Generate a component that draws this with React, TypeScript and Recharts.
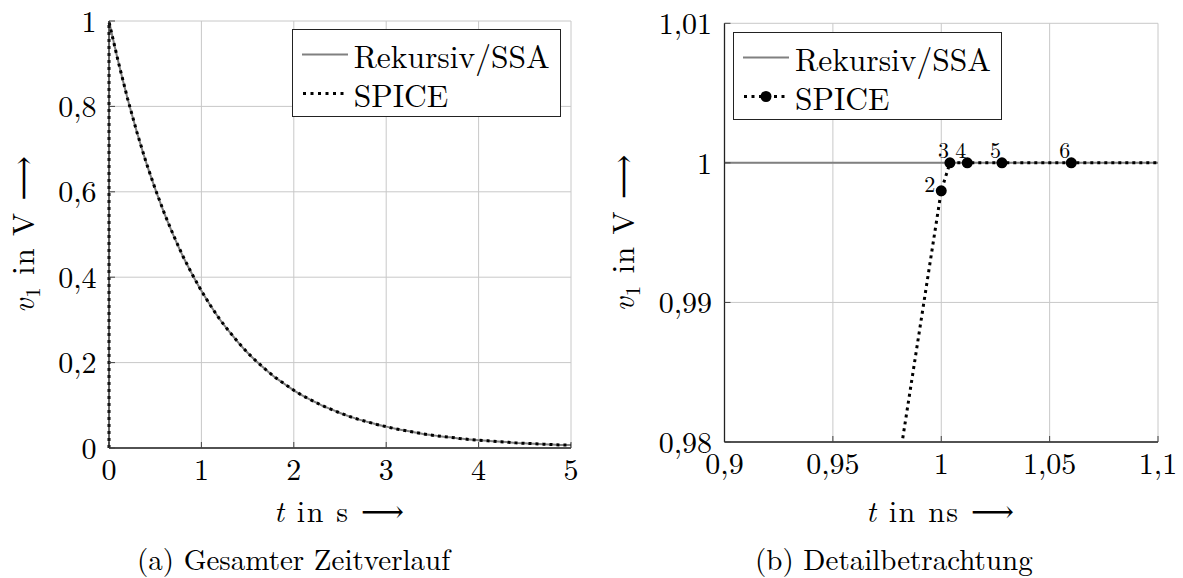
import React from 'react';
import { LineChart, Line, XAxis, YAxis, CartesianGrid, Legend, LabelList } from 'recharts';

const FONT =
  "'Latin Modern Roman', 'CMU Serif', 'Liberation Serif', 'Tinos', 'Times New Roman', 'Noto Serif', 'DejaVu Serif', 'FreeSerif', 'Nimbus Roman', 'TeX Gyre Termes', Times, serif";

// ---------- Panel (a): Gesamter Zeitverlauf (t in s) ----------
const timeA = [
  0, 0.1, 0.2, 0.3, 0.4, 0.5, 0.6, 0.7, 0.8, 0.9,
  1.0, 1.1, 1.2, 1.3, 1.4, 1.5, 1.6, 1.7, 1.8, 1.9,
  2.0, 2.1, 2.2, 2.3, 2.4, 2.5, 2.6, 2.7, 2.8, 2.9,
  3.0, 3.1, 3.2, 3.3, 3.4, 3.5, 3.6, 3.7, 3.8, 3.9,
  4.0, 4.1, 4.2, 4.3, 4.4, 4.5, 4.6, 4.7, 4.8, 4.9, 5.0,
];
const rekursivA = [
  1, 0.905, 0.819, 0.741, 0.670, 0.607, 0.549, 0.497, 0.449, 0.407,
  0.368, 0.333, 0.301, 0.273, 0.247, 0.223, 0.202, 0.183, 0.165, 0.150,
  0.135, 0.122, 0.111, 0.100, 0.091, 0.082, 0.074, 0.067, 0.061, 0.055,
  0.050, 0.045, 0.041, 0.037, 0.033, 0.030, 0.027, 0.025, 0.022, 0.020,
  0.018, 0.017, 0.015, 0.014, 0.012, 0.011, 0.010, 0.009, 0.008, 0.007, 0.007,
];
// SPICE starts at 0 V and reaches ~1 V after 1 ns, then follows the same decay
const spiceStartTimeA = [0, 0.000000001];
const spiceStartValueA = [0, 0.998];
const xTicksA = [0, 1, 2, 3, 4, 5];
const yTicksA = [0, 0.2, 0.4, 0.6, 0.8, 1];

// ---------- Panel (b): Detailbetrachtung (t in ns) ----------
const rekursivTimeB = [0.9, 1.1];
const rekursivValueB = [1, 1];
const spiceTimeB = [0, 1.0, 1.004, 1.012, 1.028, 1.06, 1.124];
const spiceValueB = [0, 0.998, 1, 1, 1, 1, 1];
const xTicksB = [0.9, 0.95, 1, 1.05, 1.1];
const yTicksB = [0.98, 0.99, 1, 1.01];

const seriesNames = ['Rekursiv/SSA', 'SPICE'];

// ---------- data tables ----------
const rekursivDataA = timeA.map((t, i) => ({ t, v: rekursivA[i] }));
const spiceDataA = [
  ...spiceStartTimeA.map((t, i) => ({ t, v: spiceStartValueA[i] })),
  ...timeA.slice(1).map((t, i) => ({ t, v: rekursivA[i + 1] })),
];
const rekursivDataB = rekursivTimeB.map((t, i) => ({ t, v: rekursivValueB[i] }));
const xMinB = xTicksB[0];
const xMaxB = xTicksB[xTicksB.length - 1];
const yMinB = yTicksB[0];
const yMaxB = yTicksB[yTicksB.length - 1];
const spiceDataB = spiceTimeB.map((t, i) => ({
  t,
  v: spiceValueB[i],
  label: t >= xMinB && t <= xMaxB && spiceValueB[i] >= yMinB ? String(i + 1) : '',
}));

const fmt = (v: number) => String(v).replace('.', ',');

const tickStyle = { fontFamily: FONT, fontSize: 30, fill: '#000' };
const axisLineStyle = { stroke: '#222', strokeWidth: 1.3 };
const tickLineStyle = { stroke: '#444', strokeWidth: 1 };
const GRID = '#c8c8c8';
const GRAY = '#808080';

function LegendBox({ marker }: { marker: boolean }) {
  return (
    <div
      style={{
        boxSizing: 'border-box',
        width: 269,
        border: '1.3px solid #222',
        background: '#fff',
        padding: '5px 0 3px 9px',
        fontFamily: FONT,
        fontSize: 31.5,
        color: '#000',
      }}
    >
      {seriesNames.map((name, idx) => (
        <div key={name} style={{ display: 'flex', alignItems: 'center', height: 39, whiteSpace: 'nowrap' }}>
          <svg width={46} height={39} style={{ flex: 'none' }}>
            {idx === 0 ? (
              <line x1={0} x2={46} y1={19.5} y2={19.5} stroke={GRAY} strokeWidth={2} />
            ) : (
              <g>
                <line x1={1} x2={46} y1={19.5} y2={19.5} stroke="#000" strokeWidth={3} strokeDasharray="3 4.5" />
                {marker && <circle cx={23} cy={19.5} r={5.5} fill="#000" />}
              </g>
            )}
          </svg>
          <span style={{ marginLeft: 6, display: 'inline-block', height: 30, lineHeight: '30px' }}>{name}</span>
        </div>
      ))}
    </div>
  );
}

const renderPointLabel = (props: any) => {
  const { value, index } = props;
  if (!value) return null;
  const x = props.x ?? props.viewBox?.x;
  const y = props.y ?? props.viewBox?.y;
  if (x == null || y == null) return null;
  const below = spiceValueB[index] < 1;
  return (
    <text
      x={below ? x - 6 : x - 1}
      y={below ? y + 1 : y - 5}
      textAnchor="end"
      fontFamily={FONT}
      fontSize={22}
      fill="#000"
    >
      {value}
    </text>
  );
};

function ChartA() {
  return (
    <LineChart width={600} height={578} margin={{ top: 21, right: 29, bottom: 90, left: 9 }}>
      <CartesianGrid stroke={GRID} strokeWidth={1} />
      <XAxis
        dataKey="t"
        type="number"
        domain={[0, 5]}
        ticks={xTicksA}
        interval={0}
        tickFormatter={fmt}
        height={40}
        tick={tickStyle}
        tickSize={-6}
        tickMargin={16.7}
        tickLine={tickLineStyle}
        axisLine={axisLineStyle}
      />
      <XAxis
        xAxisId="top"
        orientation="top"
        type="number"
        domain={[0, 5]}
        height={0}
        tick={false}
        tickLine={false}
        axisLine={axisLineStyle}
      />
      <YAxis
        dataKey="v"
        type="number"
        domain={[0, 1]}
        ticks={yTicksA}
        interval={0}
        tickFormatter={fmt}
        width={100}
        tick={tickStyle}
        tickSize={-6}
        tickMargin={18.5}
        tickLine={tickLineStyle}
        axisLine={axisLineStyle}
      />
      <YAxis
        yAxisId="right"
        orientation="right"
        type="number"
        domain={[0, 1]}
        width={0}
        tick={false}
        tickLine={false}
        axisLine={axisLineStyle}
      />
      <Line data={rekursivDataA} dataKey="v" type="monotone" stroke={GRAY} strokeWidth={2} dot={false} isAnimationActive={false} />
      <Line
        data={spiceDataA}
        dataKey="v"
        type="linear"
        stroke="#000"
        strokeWidth={3}
        strokeDasharray="3 4"
        dot={false}
        isAnimationActive={false}
      />
      <Legend
        layout="horizontal"
        verticalAlign="middle"
        align="center"
        wrapperStyle={{ left: 291.7, top: 29.3, width: 'auto', height: 'auto' }}
        content={() => <LegendBox marker={false} />}
      />
    </LineChart>
  );
}

function ChartB() {
  return (
    <LineChart width={583} height={578} margin={{ top: 23.3, right: 25, bottom: 96, left: 24.5 }}>
      <CartesianGrid stroke={GRID} strokeWidth={1} />
      <XAxis
        dataKey="t"
        type="number"
        domain={[xMinB, xMaxB]}
        allowDataOverflow
        ticks={xTicksB}
        interval={0}
        tickFormatter={fmt}
        height={40}
        tick={tickStyle}
        tickSize={-6}
        tickMargin={16.7}
        tickLine={tickLineStyle}
        axisLine={axisLineStyle}
      />
      <XAxis
        xAxisId="top"
        orientation="top"
        type="number"
        domain={[xMinB, xMaxB]}
        height={0}
        tick={false}
        tickLine={false}
        axisLine={axisLineStyle}
      />
      <YAxis
        dataKey="v"
        type="number"
        domain={[yMinB, yMaxB]}
        allowDataOverflow
        ticks={yTicksB}
        interval={0}
        tickFormatter={fmt}
        width={100}
        tick={tickStyle}
        tickSize={-6}
        tickMargin={18.5}
        tickLine={tickLineStyle}
        axisLine={axisLineStyle}
      />
      <YAxis
        yAxisId="right"
        orientation="right"
        type="number"
        domain={[yMinB, yMaxB]}
        width={0}
        tick={false}
        tickLine={false}
        axisLine={axisLineStyle}
      />
      <Line data={rekursivDataB} dataKey="v" type="linear" stroke={GRAY} strokeWidth={2} dot={false} isAnimationActive={false} />
      <Line
        data={spiceDataB}
        dataKey="v"
        type="linear"
        stroke="#000"
        strokeWidth={3}
        strokeDasharray="3 4"
        dot={{ r: 5.5, fill: '#000', stroke: '#000', strokeWidth: 0 }}
        isAnimationActive={false}
      >
        <LabelList dataKey="label" content={renderPointLabel} />
      </Line>
      <Legend
        layout="horizontal"
        verticalAlign="middle"
        align="center"
        wrapperStyle={{ left: 133, top: 32, width: 'auto', height: 'auto' }}
        content={() => <LegendBox marker={true} />}
      />
    </LineChart>
  );
}

export default function App() {
  return (
    <div style={{ position: 'absolute', left: 0, top: 0, width: 1183, height: 578, background: '#fff', overflow: 'hidden' }}>
      <div style={{ position: 'absolute', left: 0, top: 0 }}>
        <ChartA />
      </div>
      <div style={{ position: 'absolute', left: 600, top: 0 }}>
        <ChartB />
      </div>
      <svg
        width={1183}
        height={578}
        style={{ position: 'absolute', left: 0, top: 0, pointerEvents: 'none' }}
        fontFamily={FONT}
        fill="#000"
      >
        <text transform="translate(34,234.5) rotate(-90)" textAnchor="middle" fontSize={31} textLength={157} lengthAdjust="spacing">
          <tspan fontStyle="italic">v</tspan>
          <tspan fontSize={21} dy={6}>1</tspan>
          <tspan dy={-6}> in V ⟶</tspan>
        </text>
        <text transform="translate(634,233) rotate(-90)" textAnchor="middle" fontSize={31} textLength={157} lengthAdjust="spacing">
          <tspan fontStyle="italic">v</tspan>
          <tspan fontSize={21} dy={6}>1</tspan>
          <tspan dy={-6}> in V ⟶</tspan>
        </text>
        <text x={339} y={522} textAnchor="middle" fontSize={30} textLength={130} lengthAdjust="spacing">
          <tspan fontStyle="italic">t</tspan>
          <tspan> in s ⟶</tspan>
        </text>
        <text x={940} y={522} textAnchor="middle" fontSize={30} textLength={148} lengthAdjust="spacing">
          <tspan fontStyle="italic">t</tspan>
          <tspan> in ns ⟶</tspan>
        </text>
        <text x={137} y={570} textAnchor="start" fontSize={29}>
          (a) Gesamter Zeitverlauf
        </text>
        <text x={755} y={570} textAnchor="start" fontSize={29}>
          (b) Detailbetrachtung
        </text>
      </svg>
    </div>
  );
}
